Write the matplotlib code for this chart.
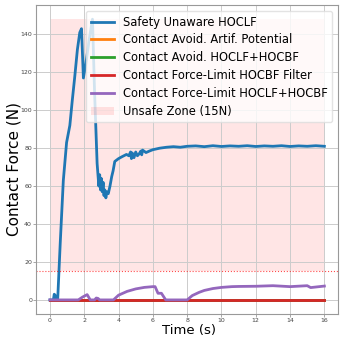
import matplotlib.pyplot as plt
import numpy as np

# values
t_blue = [0.0, 0.2, 0.25, 0.3, 0.35, 0.45, 0.6, 0.78, 0.97, 1.16, 1.3, 1.45, 1.6, 1.74, 1.84,
          1.95, 2.1, 2.3, 2.48, 2.6, 2.75, 2.85, 2.9, 2.95, 3.0, 3.05, 3.1, 3.15, 3.2, 3.26,
          3.32, 3.4, 3.5, 3.6, 3.68, 3.78, 4.0, 4.2, 4.46, 4.6, 4.7, 4.75, 4.8, 4.9, 5.0,
          5.1, 5.2, 5.3, 5.35, 5.4, 5.6, 5.8, 6.0, 6.4, 6.8, 7.2, 7.6, 8.0, 8.5, 9.0, 9.5,
          10.0, 10.5, 11.0, 11.5, 12.0, 12.5, 13.0, 13.5, 14.0, 14.5, 15.0, 15.5, 16.0]
f_blue = [0.0, 0.0, 3.0, 2.5, 0.5, 0.0, 30.0, 63.0, 83.0, 92.0, 105.0, 118.0, 132.0, 141.0, 143.0,
          117.0, 125.0, 138.0, 148.0, 110.0, 72.0, 60.0, 66.0, 58.0, 64.0, 57.0, 62.0, 55.0, 58.0, 53.8,
          57.0, 56.0, 60.0, 65.0, 68.0, 73.0, 74.5, 75.5, 76.7, 76.0, 78.0, 74.5, 77.5, 75.0, 78.0,
          76.0, 77.0, 78.5, 76.5, 79.0, 77.7, 78.5, 79.2, 80.0, 80.5, 80.8, 80.5, 81.0, 81.2, 80.8, 81.3,
          80.9, 81.2, 81.0, 81.3, 80.9, 81.2, 81.0, 81.3, 80.9, 81.2, 81.0, 81.3, 81.0]

t_zero = [0.0, 16.0]
f_zero = [0.0, 0.0]

t_purple = [0.0, 1.65, 1.9, 2.17, 2.35, 2.6, 2.7, 2.8, 2.9, 3.7, 4.0, 4.5, 5.0, 5.5, 6.0,
            6.13, 6.3, 6.5, 6.75, 8.0, 8.3, 8.7, 9.0, 9.5, 10.0, 10.6, 11.0, 12.0, 13.0,
            14.0, 15.0, 15.2, 15.5, 16.0]
f_purple = [0.0, 0.0, 1.5, 2.8, 0.0, 0.0, 1.0, 0.8, 0.0, 0.0, 2.5, 4.5, 5.8, 6.6, 7.0,
            7.0, 3.5, 3.5, 0.0, 0.0, 2.3, 4.0, 5.0, 6.0, 6.6, 7.0, 7.1, 7.2, 7.5,
            7.0, 7.5, 6.5, 6.8, 7.3]

limit = 15
zone_top = 148

fig, ax = plt.subplots(figsize=(3.45, 3.45), dpi=100)
ax.plot(t_blue, f_blue, color='tab:blue', lw=2, label='Safety Unaware HOCLF')
ax.plot(t_zero, f_zero, color='tab:orange', lw=2, label='Contact Avoid. Artif. Potential')
ax.plot(t_zero, f_zero, color='tab:green', lw=2, label='Contact Avoid. HOCLF+HOCBF')
ax.plot(t_zero, f_zero, color='tab:red', lw=2, label='Contact Force-Limit HOCBF Filter')
ax.plot(t_purple, f_purple, color='tab:purple', lw=2, label='Contact Force-Limit HOCLF+HOCBF')
ax.fill_between([0, 16], limit, zone_top, color='red', alpha=0.1, lw=0,
                label='Unsafe Zone (15N)')
ax.axhline(limit, color='red', ls=':', lw=0.8, alpha=0.7)

ax.set_xlabel('Time (s)', fontsize=9.5)
ax.xaxis.set_label_coords(0.505, -0.034)
ax.set_ylabel('Contact Force (N)', fontsize=11)
ax.yaxis.set_label_coords(-0.05, 0.47)
ax.set_xticks(np.arange(0, 17, 2))
ax.set_yticks(np.arange(0, 141, 20))
ax.tick_params(labelsize=4.5, colors='#444444', length=2, width=0.6, color='#999999', pad=1)
ax.grid(True, color='#cccccc', lw=0.7)
for s in ax.spines.values():
    s.set_color('#999999')
ax.legend(loc='upper right', fontsize=8.3, handlelength=2, borderpad=0.4,
          labelspacing=0.42, framealpha=0.8, edgecolor='#dddddd')

fig.subplots_adjust(left=0.105, right=0.98, top=0.985, bottom=0.09)
fig.savefig('out.png', dpi=100)
